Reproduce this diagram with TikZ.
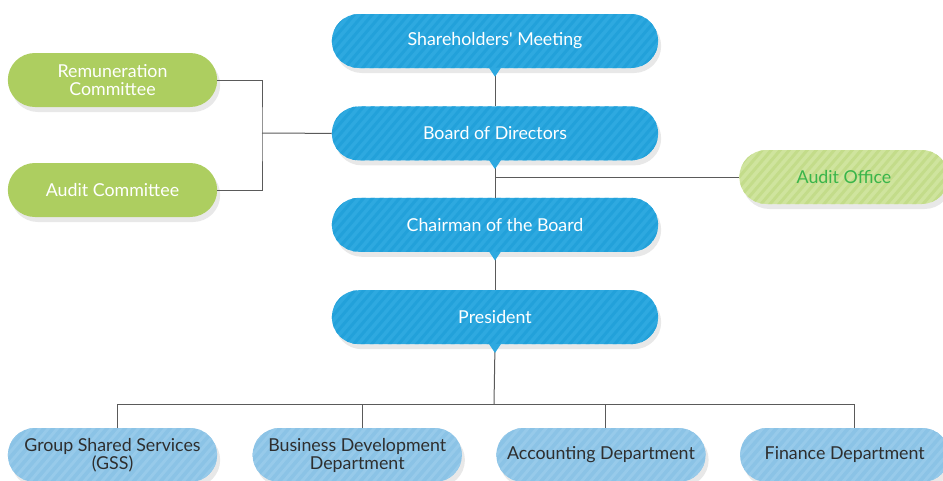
\documentclass[tikz,border=0pt]{standalone}
\usepackage{fontspec}
\setmainfont{Lato}
\usepackage{xcolor}
\usetikzlibrary{shapes.misc,calc,positioning,shadows}
\definecolor{boardblue}{HTML}{2EA9E0}
\definecolor{boardstripe}{HTML}{22A1DA}
\definecolor{cmtgreen}{HTML}{ADCE60}
\definecolor{officegreen}{HTML}{CFE49E}
\definecolor{officestripe}{HTML}{C3DC8A}
\definecolor{officetext}{HTML}{39B54A}
\definecolor{deptblue}{HTML}{8BC3E6}
\definecolor{deptstripe}{HTML}{97CAEA}
\definecolor{depttext}{HTML}{2E2E2E}
\definecolor{linegray}{HTML}{5A5A5A}
\tikzset{stripes/.style={path picture={
  \foreach \k in {-70,-61,...,340}{
    \draw[#1,line width=3pt] ($(path picture bounding box.south west)+(\k pt,-2pt)$) -- ++(60pt,70pt);}}},
%every box of the chart
box/.style={rounded rectangle, minimum height=54pt, align=center, text=white,
  font=\fontsize{17.8}{18}\selectfont,
  drop shadow={opacity=.18,shadow xshift=3pt,shadow yshift=-5pt}},
link/.style={draw=linegray, line width=1pt}}

\begin{document}
\begin{tikzpicture}[x=1pt,y=-1pt,node distance=38pt,
                    topbox/.style={box,fill=boardblue,stripes=boardstripe,minimum width=333pt},
                    cmtbox/.style={box,fill=cmtgreen,minimum width=216pt},
                    deptbox/.style={box,fill=deptblue,stripes=deptstripe,text=depttext,minimum width=216pt}]
\useasboundingbox (0,0) rectangle (943,480);

%MAIN LINE
  \node[topbox] (share) at (495,41) {Shareholders\textquotesingle\ Meeting};
  \node[topbox] (board) [below=of share] {Board of Directors};
  \node[topbox] (chair) [below=37pt of board] {Chairman of the Board};
  \node[topbox] (pres) [below=of chair] {President};

%COMMITTEES AND AUDIT OFFICE
  \node[cmtbox] (remun) at (112.5,80) {Remuneration\\Committee};
  \node[cmtbox] (auditc) at (112.5,190) {Audit Committee};
  \node[box,fill=officegreen,stripes=officestripe,text=officetext,minimum width=216pt] (auditoff) at (844,177) {Audit Office};

%DEPARTMENTS
  \node[deptbox] (gss) at (112.5,455) {Group Shared Services\\(GSS)};
  \node[deptbox] (bizdev) [right=35pt of gss] {Business Development\\Department};
  \node[deptbox] (acct) [right=34pt of bizdev] {Accounting Department};
  \node[deptbox] (fin) [right=34pt of acct] {Finance Department};

%CONNECTORS
  \draw[link] (share.south) -- (board.north);
  \draw[link] (board.south) -- (chair.north);
  \draw[link] (chair.south) -- (pres.north);
  \draw[link] (auditoff.west -| board.south) -- (auditoff.west);

  \coordinate (cmt) at (262,133);
  \draw[link] (remun.east) -| (cmt) |- (auditc.east);
  \draw[link] (cmt) -- (board.west);

  \coordinate (split) at (494,404);
  \draw[link] (pres.south) -- (split);
  \foreach \n/\dx in {gss/4.5,bizdev/5.5,acct/4.5,fin/10}
    \draw[link] (split) -| ($(\n.north)+(\dx pt,0)$);

%POINTERS
  \foreach \n in {share,board,chair,pres}
    \fill[boardblue] ($(\n.south)+(-6pt,0.5pt)$) -- ++(12pt,0) -- ++(-6pt,-9pt) -- cycle;

\end{tikzpicture}
\end{document}
